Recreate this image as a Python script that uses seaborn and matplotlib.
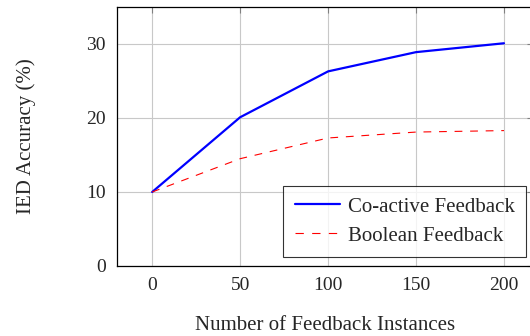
import matplotlib
matplotlib.use("Agg")
import matplotlib.pyplot as plt
import seaborn as sns
import pandas as pd
from matplotlib.lines import Line2D

x_vals = [0, 50, 100, 150, 200]
coactive = [10.0, 20.1, 26.3, 28.9, 30.1]
boolean = [10.0, 14.5, 17.3, 18.1, 18.3]
series_names = ["Co-active Feedback", "Boolean Feedback"]

df = pd.DataFrame({
    "x": x_vals * 2,
    "y": coactive + boolean,
    "series": [series_names[0]] * len(x_vals) + [series_names[1]] * len(x_vals),
})

sns.set_style("white")
plt.rcParams['font.family'] = ['Liberation Serif', 'DejaVu Serif']

fig = plt.figure(figsize=(5.3, 3.36), dpi=100)
ax = fig.add_axes([117 / 530, 70 / 336, 416 / 530, 259 / 336])

sns.lineplot(data=df, x="x", y="y", hue="series", style="series",
             palette={series_names[0]: "#0000ff", series_names[1]: "#ff0000"},
             dashes={series_names[0]: "", series_names[1]: (7, 7)},
             ax=ax, legend=False)
lines = ax.get_lines()
lines[0].set_linewidth(1.6)
lines[1].set_linewidth(0.8)

ax.set_xlim(-20, 216.5)
ax.set_ylim(0, 35)
ax.set_xticks(x_vals)
ax.set_yticks([0, 10, 20, 30])
ax.grid(True, color="#c8c8c8", linewidth=0.8)
ax.set_axisbelow(True)
ax.tick_params(direction="in", length=4, color="#808080", labelsize=14,
               top=True, right=True, pad=8)
for s in ax.spines.values():
    s.set_color("black")
    s.set_linewidth(0.9)

ax.set_xlabel("Number of Feedback Instances", fontsize=15, labelpad=16)
ax.set_ylabel("IED Accuracy (%)", fontsize=15, labelpad=36)

handles = [Line2D([], [], color="#0000ff", lw=1.6),
           Line2D([], [], color="#ff0000", lw=0.8, dashes=(7.5, 7.5))]
leg = ax.legend(handles, series_names, loc="lower right",
                bbox_to_anchor=(526 / 530, 79 / 336), bbox_transform=fig.transFigure,
                fontsize=15, frameon=True, fancybox=False, edgecolor="black",
                handlelength=2.2, borderaxespad=0, labelspacing=0.45,
                handletextpad=0.35, borderpad=0.55)
leg.get_frame().set_linewidth(0.8)

fig.savefig("out.png", dpi=100)
